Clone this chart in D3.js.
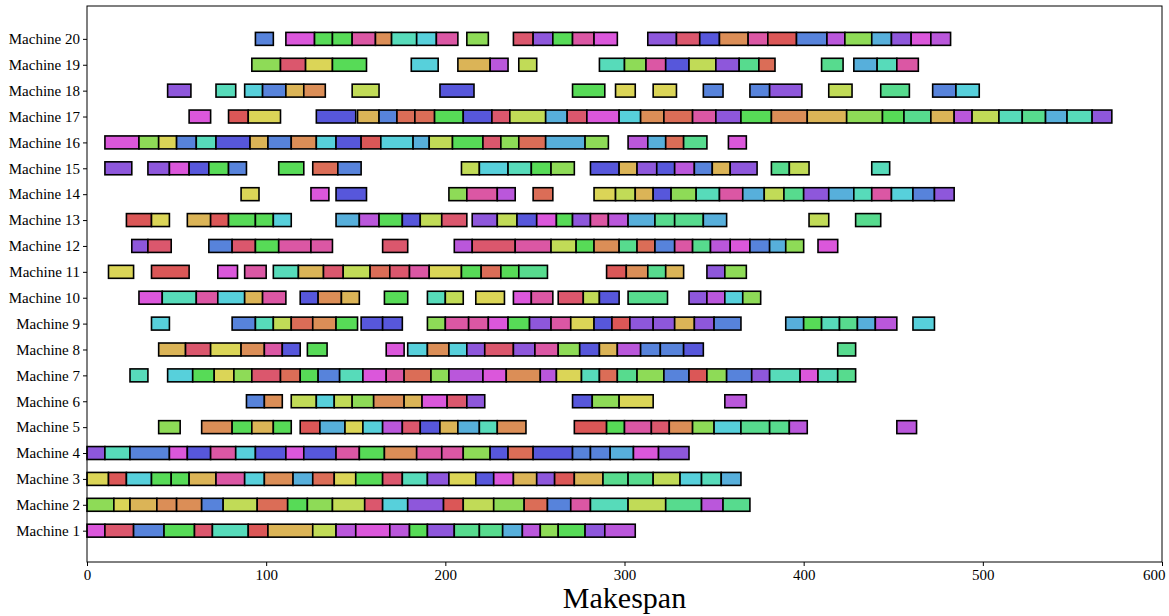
<!DOCTYPE html>
<html>
<head>
<meta charset="utf-8">
<script src="https://cdn.jsdelivr.net/npm/d3@7"></script>
<style>
  body { margin: 0; background: #fff; }
  svg text { font-family: "Liberation Serif", "Times New Roman", serif; }
</style>
</head>
<body>
<svg id="chart" width="1169" height="616"></svg>
<script>
// tasks per machine: [start, end, job colour key]
const machine1 = [[0,10,'MG'],[10,26,'RS'],[26,43,'BL'],[43,60,'GR'],[60,70,'RS'],[70,90,'AQ'],[90,101,'R'],[101,126,'GO'],[126,139,'YG'],[139,150,'VI'],[150,169,'MG'],[169,180,'VI'],[180,190,'GR'],[190,205,'PU'],[205,219,'MT'],[219,232,'MT'],[232,243,'SK'],[243,253,'VI'],[253,263,'LM'],[263,278,'GR'],[278,289,'PU'],[289,306,'VI']];
const machine2 = [[0,15,'LM'],[15,24,'YE'],[24,39,'GO'],[39,50,'OR'],[50,64,'OR'],[64,76,'BL'],[76,95,'YG'],[95,112,'RO'],[112,123,'GR'],[123,137,'LM'],[137,155,'YG'],[155,165,'RS'],[165,179,'CY'],[179,199,'PU'],[199,210,'R'],[210,227,'YG'],[227,244,'LM'],[244,257,'RO'],[257,270,'BL'],[270,281,'PK'],[281,302,'AQ'],[302,323,'YG'],[323,343,'MT'],[343,355,'VI'],[355,370,'MT']];
const machine3 = [[0,12,'YE'],[12,22,'R'],[22,36,'CY'],[36,47,'GR'],[47,57,'GR'],[57,72,'GO'],[72,88,'PK'],[88,99,'CY'],[99,115,'OR'],[115,126,'SK'],[126,138,'RO'],[138,150,'YE'],[150,165,'GR'],[165,176,'RS'],[176,190,'AQ'],[190,202,'PU'],[202,217,'YE'],[217,227,'IN'],[227,238,'MG'],[238,251,'GO'],[251,261,'PU'],[261,272,'R'],[272,288,'GO'],[288,302,'MT'],[302,316,'MT'],[316,331,'YG'],[331,343,'CY'],[343,354,'AQ'],[354,365,'SK']];
const machine4 = [[0,10,'PU'],[10,24,'AQ'],[24,46,'BL'],[46,56,'MG'],[56,69,'IN'],[69,83,'PK'],[83,94,'CY'],[94,111,'IN'],[111,121,'MG'],[121,139,'IN'],[139,152,'PK'],[152,166,'GR'],[166,184,'OR'],[184,198,'PK'],[198,210,'PK'],[210,225,'LM'],[225,235,'IN'],[235,249,'RO'],[249,271,'IN'],[271,281,'BL'],[281,292,'BL'],[292,305,'SK'],[305,319,'MG'],[319,336,'PU']];
const machine5 = [[40,52,'LM'],[64,81,'OR'],[81,92,'GR'],[92,104,'GO'],[104,114,'GR'],[119,130,'R'],[130,144,'SK'],[144,154,'YE'],[154,165,'CY'],[165,176,'VI'],[176,186,'RS'],[186,197,'IN'],[197,207,'GO'],[207,219,'SK'],[219,229,'AQ'],[229,245,'OR'],[272,290,'R'],[290,300,'GR'],[300,315,'PK'],[315,325,'RS'],[325,338,'OR'],[338,350,'LM'],[350,365,'CY'],[365,381,'MT'],[381,392,'MT'],[392,402,'VI'],[452,463,'VI']];
const machine6 = [[89,99,'BL'],[99,109,'OR'],[114,128,'YG'],[128,138,'CY'],[138,148,'YG'],[148,160,'LM'],[160,177,'OR'],[177,187,'GO'],[187,201,'MG'],[201,212,'RS'],[212,222,'PU'],[271,282,'IN'],[282,297,'LM'],[297,316,'YE'],[356,368,'VI']];
const machine7 = [[24,34,'AQ'],[45,59,'CY'],[59,71,'GR'],[71,82,'YE'],[82,92,'LM'],[92,108,'RS'],[108,119,'RO'],[119,129,'GR'],[129,141,'BL'],[141,154,'AQ'],[154,167,'MG'],[167,177,'PK'],[177,192,'RO'],[192,202,'LM'],[202,221,'VI'],[221,234,'MG'],[234,253,'OR'],[253,262,'VI'],[262,276,'YE'],[276,286,'AQ'],[286,296,'RO'],[296,307,'MT'],[307,322,'LM'],[322,336,'BL'],[336,346,'R'],[346,357,'LM'],[357,371,'BL'],[371,381,'PU'],[381,398,'AQ'],[398,408,'MG'],[408,419,'AQ'],[419,429,'MT']];
const machine8 = [[40,55,'GO'],[55,69,'RS'],[69,86,'YE'],[86,99,'OR'],[99,109,'PK'],[109,119,'IN'],[123,134,'GR'],[167,177,'MG'],[179,190,'CY'],[190,202,'OR'],[202,212,'CY'],[212,222,'PU'],[222,238,'RS'],[238,250,'PU'],[250,263,'PK'],[263,275,'LM'],[275,286,'IN'],[286,296,'GO'],[296,309,'VI'],[309,320,'BL'],[320,333,'BL'],[333,344,'IN'],[419,429,'MT']];
const machine9 = [[36,46,'CY'],[81,94,'BL'],[94,104,'AQ'],[104,114,'YG'],[114,126,'RO'],[126,139,'OR'],[139,151,'GR'],[153,165,'IN'],[165,176,'IN'],[190,200,'LM'],[200,213,'PK'],[213,224,'PK'],[224,235,'MG'],[235,247,'GR'],[247,259,'PU'],[259,270,'PK'],[270,283,'YE'],[283,293,'IN'],[293,303,'R'],[303,316,'PU'],[316,328,'PU'],[328,339,'GO'],[339,350,'PU'],[350,365,'BL'],[390,400,'SK'],[400,410,'GR'],[410,420,'AQ'],[420,430,'MT'],[430,440,'SK'],[440,452,'VI'],[461,473,'CY']];
const machine10 = [[29,42,'MG'],[42,61,'AQ'],[61,73,'PK'],[73,88,'CY'],[88,98,'GO'],[98,111,'PK'],[119,129,'IN'],[129,142,'OR'],[142,152,'GO'],[166,179,'GR'],[190,200,'AQ'],[200,210,'YG'],[217,233,'YE'],[238,248,'MG'],[248,260,'PK'],[263,277,'RS'],[277,286,'YG'],[286,297,'IN'],[302,324,'MT'],[336,346,'PU'],[346,356,'VI'],[356,366,'CY'],[366,376,'LM']];
const machine11 = [[12,26,'YE'],[36,57,'R'],[73,84,'MG'],[88,100,'PK'],[104,118,'AQ'],[118,132,'GO'],[132,143,'RS'],[143,158,'YG'],[158,169,'RO'],[169,180,'RS'],[180,191,'PK'],[191,209,'YE'],[209,220,'GR'],[220,231,'RO'],[231,241,'GR'],[241,257,'MT'],[290,301,'R'],[301,313,'OR'],[313,323,'MT'],[323,333,'GO'],[346,356,'PU'],[356,368,'LM']];
const machine12 = [[25,34,'PU'],[34,47,'RS'],[68,81,'BL'],[81,94,'RS'],[94,107,'GR'],[107,125,'PK'],[125,137,'PK'],[165,179,'RS'],[205,215,'VI'],[215,239,'RS'],[239,259,'PK'],[259,273,'YG'],[273,283,'GR'],[283,297,'OR'],[297,307,'MT'],[307,317,'RO'],[317,328,'BL'],[328,338,'PK'],[338,348,'MT'],[348,359,'VI'],[359,370,'MG'],[370,381,'BL'],[381,390,'SK'],[390,400,'LM'],[408,419,'MG']];
const machine13 = [[22,36,'R'],[36,46,'YE'],[56,69,'GO'],[69,79,'R'],[79,94,'GR'],[94,104,'GR'],[104,114,'CY'],[139,152,'SK'],[152,163,'VI'],[163,176,'GR'],[176,186,'IN'],[186,198,'YG'],[198,212,'RS'],[215,229,'PU'],[229,240,'YG'],[240,251,'IN'],[251,262,'MG'],[262,271,'GR'],[271,281,'PU'],[281,291,'PK'],[291,302,'VI'],[302,317,'SK'],[317,328,'MT'],[328,344,'MT'],[344,357,'SK'],[403,414,'YG'],[429,443,'MT']];
const machine14 = [[86,96,'YE'],[125,135,'MG'],[139,156,'IN'],[202,212,'LM'],[212,229,'PK'],[229,239,'VI'],[249,260,'RO'],[283,295,'YE'],[295,306,'YG'],[306,316,'GO'],[316,326,'IN'],[326,340,'LM'],[340,353,'AQ'],[353,366,'PK'],[366,378,'SK'],[378,389,'YG'],[389,400,'MT'],[400,414,'PU'],[414,428,'SK'],[428,438,'AQ'],[438,449,'PK'],[449,461,'CY'],[461,473,'BL'],[473,484,'PU']];
const machine15 = [[10,25,'PU'],[34,46,'PU'],[46,57,'MG'],[57,68,'IN'],[68,79,'GR'],[79,89,'BL'],[107,121,'GR'],[126,140,'RO'],[140,153,'BL'],[209,219,'YG'],[219,235,'CY'],[235,248,'AQ'],[248,259,'GR'],[259,272,'LM'],[281,297,'IN'],[297,307,'GO'],[307,318,'PU'],[318,328,'IN'],[328,339,'VI'],[339,349,'BL'],[349,359,'GO'],[359,374,'PU'],[382,392,'MT'],[392,403,'YG'],[438,448,'AQ']];
const machine16 = [[10,29,'MG'],[29,40,'LM'],[40,50,'YE'],[50,61,'BL'],[61,72,'AQ'],[72,91,'IN'],[91,101,'GO'],[101,114,'BL'],[114,128,'OR'],[128,139,'CY'],[139,153,'IN'],[153,164,'R'],[164,182,'CY'],[182,191,'SK'],[191,204,'YG'],[204,221,'GR'],[221,231,'RS'],[231,241,'LM'],[241,256,'RO'],[256,278,'SK'],[278,291,'LM'],[302,313,'VI'],[313,323,'SK'],[323,333,'RO'],[333,346,'MT'],[358,368,'MG']];
const machine17 = [[57,69,'MG'],[79,90,'R'],[90,108,'YE'],[128,150,'IN'],[151,163,'GO'],[163,173,'BL'],[173,183,'RO'],[183,194,'RO'],[194,210,'GR'],[210,226,'IN'],[226,236,'RS'],[236,256,'YG'],[256,268,'SK'],[268,279,'RS'],[279,297,'MG'],[297,309,'CY'],[309,322,'OR'],[322,338,'RO'],[338,351,'PK'],[351,365,'PU'],[365,382,'GR'],[382,402,'OR'],[402,424,'GO'],[424,444,'LM'],[444,456,'GR'],[456,471,'MT'],[471,484,'GO'],[484,494,'VI'],[494,509,'YG'],[509,522,'AQ'],[522,535,'MT'],[535,547,'SK'],[547,561,'AQ'],[561,572,'PU']];
const machine18 = [[45,58,'PU'],[72,83,'AQ'],[88,98,'CY'],[98,111,'BL'],[111,121,'GO'],[121,133,'OR'],[148,163,'YG'],[197,216,'IN'],[271,289,'GR'],[295,306,'YE'],[316,329,'YE'],[344,355,'BL'],[370,381,'BL'],[381,399,'PU'],[414,427,'YG'],[443,459,'MT'],[472,485,'BL'],[485,498,'CY']];
const machine19 = [[92,108,'LM'],[108,122,'RS'],[122,137,'YE'],[137,156,'GR'],[181,196,'CY'],[207,225,'GO'],[225,235,'VI'],[241,251,'YG'],[286,300,'AQ'],[300,312,'LM'],[312,323,'PK'],[323,336,'IN'],[336,351,'YG'],[351,364,'PU'],[364,375,'MT'],[375,384,'RO'],[410,422,'MT'],[428,441,'SK'],[441,452,'AQ'],[452,464,'PK']];
const machine20 = [[94,104,'BL'],[111,127,'MG'],[127,137,'GR'],[137,148,'GR'],[148,161,'PK'],[161,170,'OR'],[170,184,'AQ'],[184,195,'CY'],[195,207,'PK'],[212,224,'LM'],[238,249,'RS'],[249,260,'PU'],[260,271,'GR'],[271,283,'PK'],[283,296,'MG'],[313,329,'PU'],[329,342,'RS'],[342,353,'IN'],[353,369,'OR'],[369,380,'PK'],[380,396,'R'],[396,413,'BL'],[413,423,'VI'],[423,438,'LM'],[438,449,'SK'],[449,460,'PU'],[460,471,'MG'],[471,482,'VI']];

const schedule = [machine1, machine2, machine3, machine4, machine5, machine6, machine7, machine8, machine9, machine10,
                  machine11, machine12, machine13, machine14, machine15, machine16, machine17, machine18, machine19, machine20];
const machineLabels = schedule.map((d, i) => 'Machine ' + (i + 1));
const xTicks = [0, 100, 200, 300, 400, 500, 600];

// colour of each job key (hue in degrees)
const hues = {R:0, RS:350, PK:325, MG:300, VI:285, PU:265, IN:240, BL:220, SK:200, CY:185, AQ:165,
              MT:145, GR:120, LM:95, YG:72, YE:57, GO:42, OR:25, RO:10};
const colorOf = k => d3.hsl(hues[k], 0.65, 0.6).formatHex();

const svg = d3.select('#chart');
const plotLeft = 87, plotRight = 1162, plotTop = 6, plotBottom = 562;

const x = d3.scaleLinear().domain([0, 600]).range([plotLeft, plotRight]);
const y = d3.scaleLinear().domain([-0.21, 21.27]).range([plotBottom, plotTop]);
const barH = y(0) - y(0.5);

// bars
const rows = svg.append('g').selectAll('g')
    .data(schedule)
    .join('g');

rows.selectAll('rect')
    .data((d, i) => d.map(t => ({s: t[0], e: t[1], k: t[2], row: i + 1})))
    .join('rect')
    .attr('x', d => x(d.s))
    .attr('y', d => y(d.row) - barH / 2)
    .attr('width', d => x(d.e) - x(d.s))
    .attr('height', barH)
    .attr('fill', d => colorOf(d.k))
    .attr('stroke', '#000')
    .attr('stroke-width', 1.6);

// axes
const xAxis = d3.axisBottom(x).tickValues(xTicks).tickSizeOuter(0).tickSize(4).tickPadding(3);
svg.append('g')
    .attr('transform', `translate(0,${plotBottom})`)
    .call(xAxis)
    .call(g => g.select('.domain').remove())
    .selectAll('text')
    .attr('font-size', 15)
    .attr('font-family', '"Liberation Serif", serif')
    .attr('fill', '#000')
    // keep the last label inside the page
    .filter(d => d === 600)
    .attr('text-anchor', 'end')
    .attr('dx', 3);

const yAxis = d3.axisLeft(y).tickValues(d3.range(1, 21)).tickFormat(d => machineLabels[d - 1]).tickSize(4).tickPadding(3);
svg.append('g')
    .attr('transform', `translate(${plotLeft},0)`)
    .call(yAxis)
    .call(g => g.select('.domain').remove())
    .selectAll('text')
    .attr('font-size', 15)
    .attr('font-family', '"Liberation Serif", serif')
    .attr('fill', '#000');

// frame
svg.append('rect')
    .attr('x', plotLeft).attr('y', plotTop)
    .attr('width', plotRight - plotLeft).attr('height', plotBottom - plotTop)
    .attr('fill', 'none')
    .attr('stroke', '#000')
    .attr('stroke-width', 1);

svg.append('text')
    .attr('x', (plotLeft + plotRight) / 2)
    .attr('y', 608)
    .attr('text-anchor', 'middle')
    .attr('font-size', 30)
    .text('Makespan');
</script>
</body>
</html>
